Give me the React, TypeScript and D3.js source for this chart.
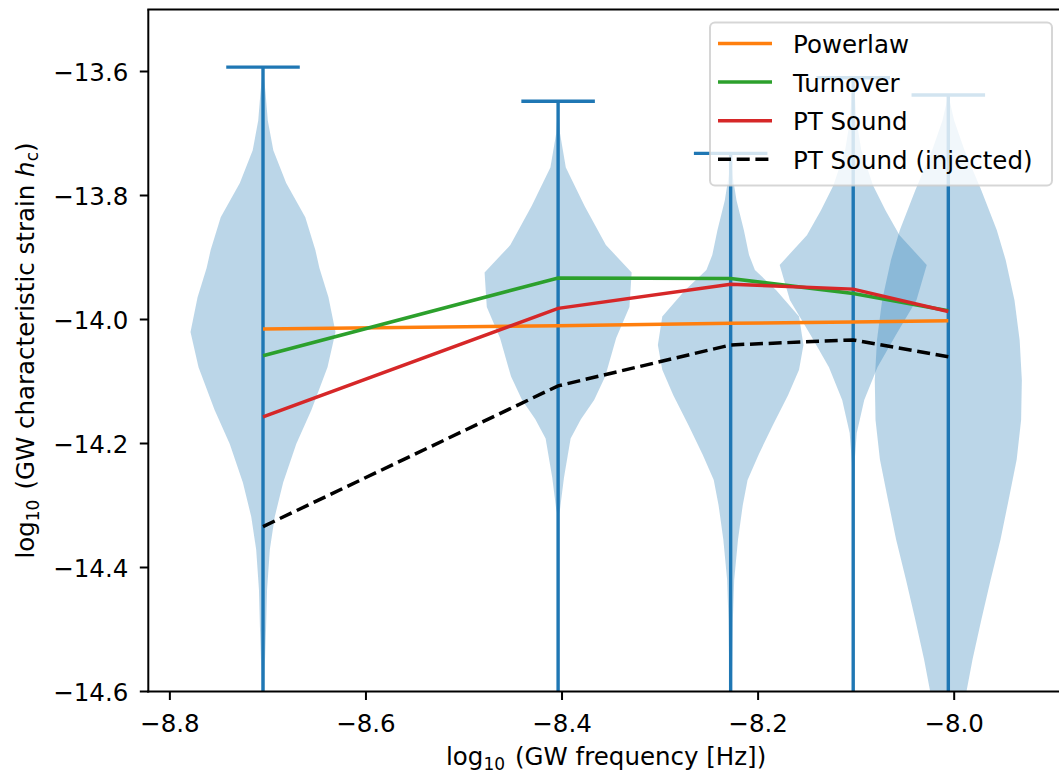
import React from "react";
import * as d3 from "d3";

// ---------- data ----------
const positions = [-8.705, -8.404, -8.228, -8.103, -8.006];
const violinMax = [-13.593, -13.648, -13.732, -13.61, -13.638];
const violinMin = [-14.72, -14.72, -14.72, -14.72, -14.76];

// [value, relative density]
const violin1 = [
  [-13.593, 0], [-13.635, 0.035], [-13.679, 0.065], [-13.727, 0.14], [-13.78, 0.315],
  [-13.835, 0.575], [-13.888, 0.712], [-13.917, 0.767], [-13.964, 0.89], [-14.02, 0.986],
  [-14.077, 0.877], [-14.146, 0.658], [-14.201, 0.452], [-14.263, 0.274], [-14.318, 0.16],
  [-14.371, 0.093], [-14.436, 0.055], [-14.5, 0.041], [-14.564, 0.023], [-14.645, 0.014],
  [-14.72, 0],
];
const violin2 = [
  [-13.648, 0], [-13.699, 0.025], [-13.755, 0.105], [-13.817, 0.36], [-13.88, 0.65],
  [-13.924, 1.0], [-13.98, 0.97], [-14.03, 0.79], [-14.092, 0.64], [-14.13, 0.49],
  [-14.161, 0.31], [-14.192, 0.17], [-14.255, 0.08], [-14.305, 0.027], [-14.317, 0.007],
  [-14.72, 0],
];
const violin3 = [
  [-13.732, 0], [-13.767, 0.025], [-13.808, 0.08], [-13.856, 0.18], [-13.896, 0.25],
  [-13.92, 0.33], [-13.953, 0.62], [-13.995, 0.93], [-14.041, 0.99], [-14.081, 0.93],
  [-14.122, 0.78], [-14.17, 0.575], [-14.218, 0.38], [-14.259, 0.23], [-14.299, 0.165],
  [-14.355, 0.1], [-14.42, 0.048], [-14.484, 0.03], [-14.598, 0.015], [-14.72, 0],
];
const violin4 = [
  [-13.61, 0], [-13.625, 0.015], [-13.679, 0.045], [-13.727, 0.11], [-13.784, 0.27],
  [-13.824, 0.44], [-13.864, 0.63], [-13.912, 1.0], [-13.969, 0.86], [-14.025, 0.58],
  [-14.077, 0.33], [-14.13, 0.15], [-14.183, 0.048], [-14.231, 0.018], [-14.291, 0.006],
  [-14.72, 0],
];
const violin5 = [
  [-13.638, 0], [-13.679, 0.08], [-13.727, 0.22], [-13.792, 0.45], [-13.856, 0.66],
  [-13.904, 0.78], [-13.969, 0.9], [-14.033, 0.97], [-14.098, 1.0], [-14.162, 0.99],
  [-14.226, 0.93], [-14.291, 0.82], [-14.355, 0.71], [-14.42, 0.575], [-14.484, 0.45],
  [-14.548, 0.33], [-14.598, 0.25], [-14.661, 0.15], [-14.726, 0.05], [-14.76, 0],
];
const violins = [violin1, violin2, violin3, violin4, violin5];
const violinWidth = 0.15;

const powerlaw = [-14.0155, -14.01, -14.006, -14.004, -14.002];
const turnover = [-14.0585, -13.933, -13.934, -13.958, -13.986];
const ptSound = [-14.157, -13.982, -13.943, -13.951, -13.987];
const ptInjected = [-14.334, -14.107, -14.041, -14.033, -14.06];

const seriesNames = ["Powerlaw", "Turnover", "PT Sound", "PT Sound (injected)"];
const seriesColors = ["#ff7f0e", "#2ca02c", "#d62728", "#000000"];
const seriesData = [powerlaw, turnover, ptSound, ptInjected];
const seriesDashed = [false, false, false, true];

const xTicks = [-8.8, -8.6, -8.4, -8.2, -8.0];
const yTicks = [-13.6, -13.8, -14.0, -14.2, -14.4, -14.6];

// ---------- layout ----------
const W = 1059;
const H = 776;
const left = 148.3;
const right = 1064;
const top = 9.5;
const bottom = 691.5;
const FONT = "DejaVu Sans";
const FS = 24.5;
const C0 = "#1f77b4";

const fmt = (v: number) => d3.format(".1f")(v).replace("-", "\u2212");

export default function App() {
  const x = d3.scaleLinear().domain([-8.822, -7.888]).range([left, right]);
  const y = d3.scaleLinear().domain([-14.6, -13.5]).range([bottom, top]);
  const halfPx = x(positions[0] + violinWidth / 2) - x(positions[0]);
  const capHalf = violinWidth / 4;

  const bodies = violins.map((prof, i) => {
    const cx = x(positions[i]);
    const area = d3
      .area<number[]>()
      .x0((d) => cx - d[1] * halfPx)
      .x1((d) => cx + d[1] * halfPx)
      .y((d) => y(d[0]))
      .curve(d3.curveLinear);
    return area(prof) as string;
  });

  const line = d3
    .line<number>()
    .x((_, i) => x(positions[i]))
    .y((d) => y(d));

  const legendX = 710;
  const legendY = 22.5;
  const rowH = 38.6;

  return (
    <svg
      width={W}
      height={H}
      style={{ position: "absolute", left: 0, top: 0, background: "#fff" }}
      fontFamily={FONT}
    >
      <defs>
        <clipPath id="plotclip">
          <rect x={left} y={top} width={right - left} height={bottom - top} />
        </clipPath>
      </defs>
      <rect x={0} y={0} width={W} height={H} fill="#fff" />
      <g clipPath="url(#plotclip)">
        {bodies.map((p, i) => (
          <path key={"b" + i} d={p} fill={C0} fillOpacity={0.3} stroke="none" />
        ))}
        {positions.map((p, i) => (
          <g key={"c" + i} stroke={C0} strokeWidth={3.4}>
            <line x1={x(p)} x2={x(p)} y1={y(violinMax[i])} y2={y(violinMin[i])} />
            <line x1={x(p - capHalf)} x2={x(p + capHalf)} y1={y(violinMax[i])} y2={y(violinMax[i])} />
            <line x1={x(p - capHalf)} x2={x(p + capHalf)} y1={y(violinMin[i])} y2={y(violinMin[i])} />
          </g>
        ))}
        {seriesData.map((s, i) => (
          <path
            key={"l" + i}
            d={line(s) as string}
            fill="none"
            stroke={seriesColors[i]}
            strokeWidth={3.5}
            strokeDasharray={seriesDashed[i] ? "13,5.7" : undefined}
          />
        ))}
      </g>

      {/* spines */}
      <g stroke="#000" strokeWidth={2} fill="none">
        <line x1={left} x2={left} y1={top} y2={bottom + 1} />
        <line x1={left - 1} x2={right} y1={bottom} y2={bottom} />
        <line x1={left - 1} x2={right} y1={top} y2={top} />
      </g>

      {/* x ticks */}
      {xTicks.map((t) => (
        <g key={"xt" + t}>
          <line x1={x(t)} x2={x(t)} y1={bottom} y2={bottom + 8.5} stroke="#000" strokeWidth={2} />
          <text x={x(t)} y={bottom + 40} textAnchor="middle" fontSize={FS} fill="#000">
            {fmt(t)}
          </text>
        </g>
      ))}
      {/* y ticks */}
      {yTicks.map((t) => (
        <g key={"yt" + t}>
          <line x1={left - 8.5} x2={left} y1={y(t)} y2={y(t)} stroke="#000" strokeWidth={2} />
          <text x={left - 20} y={y(t) + 9} textAnchor="end" fontSize={FS} fill="#000">
            {fmt(t)}
          </text>
        </g>
      ))}

      {/* axis labels */}
      <text x={(left + right) / 2} y={765} textAnchor="middle" fontSize={FS} fill="#000">
        log
        <tspan fontSize={17} dy={5}>10</tspan>
        <tspan dy={-5} dx={10}>(GW frequency [Hz])</tspan>
      </text>
      <text
        transform={`translate(34, ${(top + bottom) / 2}) rotate(-90)`}
        textAnchor="middle"
        fontSize={FS}
        fill="#000"
      >
        log
        <tspan fontSize={17} dy={5}>10</tspan>
        <tspan dy={-5} dx={10}>(GW characteristic strain </tspan>
        <tspan fontStyle="italic">h</tspan>
        <tspan fontSize={17} dy={4}>c</tspan>
        <tspan dy={-4}>)</tspan>
      </text>

      {/* legend */}
      <rect
        x={legendX}
        y={legendY}
        width={342}
        height={163}
        rx={5}
        fill="#fff"
        fillOpacity={0.8}
        stroke="#cccccc"
        strokeOpacity={0.8}
        strokeWidth={2}
      />
      {seriesNames.map((n, i) => {
        const cy = legendY + 21 + i * rowH;
        return (
          <g key={"lg" + i}>
            <line
              x1={718}
              x2={772}
              y1={cy}
              y2={cy}
              stroke={seriesColors[i]}
              strokeWidth={3.5}
              strokeDasharray={seriesDashed[i] ? "13,5.7" : undefined}
            />
            <text x={793} y={cy + 9.5} fontSize={FS} fill="#000">
              {n}
            </text>
          </g>
        );
      })}
    </svg>
  );
}
